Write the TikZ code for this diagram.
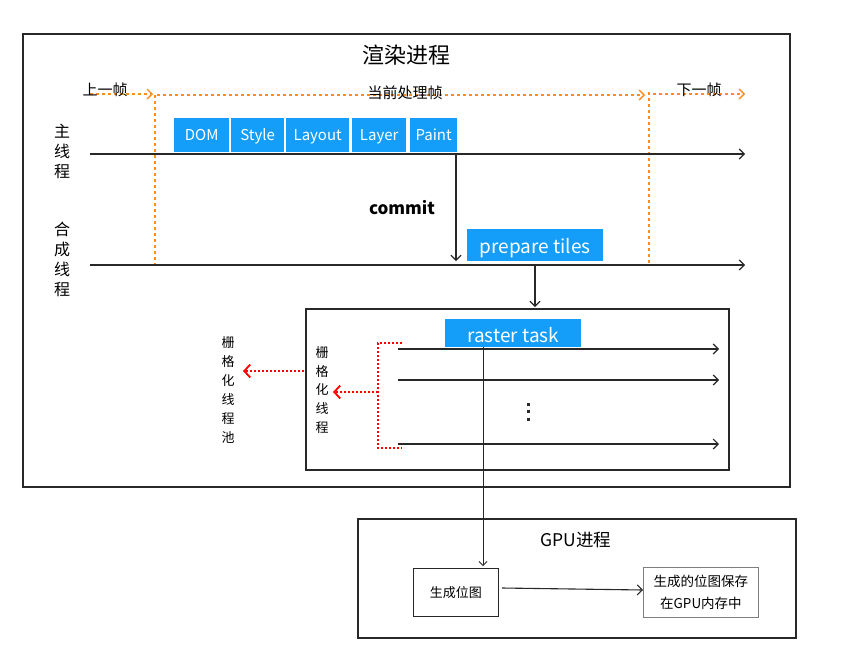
\documentclass[tikz,border=0pt]{standalone}
\usepackage{fontspec}
\setmainfont{Noto Sans CJK SC}
\usetikzlibrary{arrows.meta}
\definecolor{blu}{RGB}{20,158,250}
\definecolor{org}{RGB}{255,140,30}
\definecolor{ln}{RGB}{40,40,40}
\begin{document}
\begin{tikzpicture}[x=1pt,y=-1pt,
  frame/.style={draw=ln,line width=1.3pt},
  task/.style={fill=blu,text=white,inner sep=0pt,anchor=north west,text depth=0pt,text height=11pt,font=\fontsize{15}{17}\selectfont},
  tl/.style={draw=ln,line width=1.1pt,-{Straight Barb[length=5pt,width=10pt,line width=1.1pt]}},
  od/.style={draw=org,line width=1.4pt,dash pattern=on 3pt off 3pt},
  oa/.style={od,-{Straight Barb[length=5pt,width=10pt,line width=1.4pt]}},
  rd/.style={draw=red,line width=1.8pt,dash pattern=on 1.8pt off 2.2pt},
  ra/.style={rd,-{Straight Barb[length=6pt,width=13pt,line width=1.8pt]}},
  vlab/.style={align=center,inner sep=0pt},
  lab/.style={inner sep=0pt}]
\useasboundingbox[fill=white] (0,0) rectangle (849,662);

% render process frame
\draw[frame] (23,34) rectangle (790,487);

% frame markers (lines first, text on top)
\coordinate (p0) at (90,94);
\coordinate (p1) at (153,94);
\coordinate (c0) at (157,95);
\coordinate (c1) at (645,95);
\coordinate (n0) at (653,94);
\coordinate (n1) at (745,94);
\draw[oa] (p0) -- (p1);
\draw[oa] (c0) -- (c1);
\draw[oa] (n0) -- (n1);
\coordinate (v0t) at (155,95);
\coordinate (v0b) at (155,265);
\coordinate (v1t) at (649,92);
\coordinate (v1b) at (649,265);
\draw[od] (v0t) -- (v0b);
\draw[od] (v1t) -- (v1b);
\node[lab,font=\fontsize{22}{24}\selectfont] (title) at (406,55) {渲染进程};
\node[lab,font=\fontsize{15}{17}\selectfont] (prev) at (105,90) {上一帧};
\node[lab,font=\fontsize{15}{17}\selectfont] (cur) at (405,93) {当前处理帧};
\node[lab,font=\fontsize{15}{17}\selectfont] (next) at (699,90) {下一帧};

% main thread
\node[vlab,font=\fontsize{16}{20}\selectfont] (mainlab) at (62,151) {主\\线\\程};
\coordinate (m0) at (90,154);
\coordinate (m1) at (745,154);
\draw[tl] (m0) -- (m1);
\node[task,minimum width=55pt,minimum height=34pt] (dom) at (174,118) {DOM};
\node[task,minimum width=53pt,minimum height=34pt] (style) at (231,118) {Style};
\node[task,minimum width=63pt,minimum height=34pt] (layout) at (286,118) {Layout};
\node[task,minimum width=54pt,minimum height=34pt] (layer) at (352,118) {Layer};
\node[task,minimum width=47pt,minimum height=34pt] (paint) at (410,118) {Paint};

% commit
\node[lab,font=\fontsize{17}{19}\selectfont\bfseries] (commit) at (402,208) {commit};
\coordinate (cm0) at (456,154);
\coordinate (cm1) at (456,261);
\draw[tl] (cm0) -- (cm1);

% compositor thread
\node[vlab,font=\fontsize{16}{20}\selectfont] (complab) at (62,259) {合\\成\\线\\程};
\coordinate (k0) at (90,265);
\coordinate (k1) at (745,265);
\draw[tl] (k0) -- (k1);
\node[task,minimum width=136pt,minimum height=32pt,text height=16pt,font=\fontsize{19}{21}\selectfont] (prep) at (467,229) {prepare tiles};
\coordinate (pt0) at (535,265);
\coordinate (pt1) at (535,307);
\draw[tl] (pt0) -- (pt1);

% raster box
\draw[frame,line width=1.1pt] (306,309) rectangle (729,470);
\node[task,minimum width=136pt,minimum height=28pt,text height=19pt,font=\fontsize{19}{21}\selectfont] (rtask) at (445,319) {raster task};
\coordinate (r1a) at (398,349); \coordinate (r1b) at (719,349);
\coordinate (r2a) at (398,380); \coordinate (r2b) at (719,380);
\coordinate (r3a) at (398,444); \coordinate (r3b) at (719,444);
\draw[tl] (r1a) -- (r1b);
\draw[tl] (r2a) -- (r2b);
\draw[tl] (r3a) -- (r3b);
\foreach \yy in {404,411.5,419}
  \fill[ln] (526.5,\yy-1.5) rectangle (529.5,\yy+1.5);

% red bracket
\coordinate (b0) at (402,343);
\coordinate (b1) at (378,343);
\coordinate (b2) at (378,448);
\coordinate (b3) at (402,448);
\coordinate (bm) at (378,392);
\coordinate (bt) at (333,392);
\draw[rd] (b0) -- (b1) -- (b2) -- (b3);
\draw[ra] (bm) -- (bt);
\node[vlab,font=\fontsize{13}{18.75}\selectfont] (rthr) at (322,390) {栅\\格\\化\\线\\程};
\coordinate (pl0) at (304,371);
\coordinate (pl1) at (243,371);
\draw[ra] (pl0) -- (pl1);
\node[vlab,font=\fontsize{13}{19}\selectfont] (rpool) at (228,390) {栅\\格\\化\\线\\程\\池};

% GPU process
\draw[frame,line width=1.1pt] (358,519) rectangle (796,638);
\node[lab,font=\fontsize{17.5}{19}\selectfont] (gtitle) at (576,540) {GPU进程};
\node[draw=ln,line width=0.9pt,minimum width=85pt,minimum height=48pt,anchor=north west,inner sep=0pt,font=\fontsize{13}{15}\selectfont] (gen) at (413,568) {生成位图};
\node[draw=ln!60,line width=0.9pt,minimum width=115pt,minimum height=50pt,anchor=north west,inner sep=0pt,align=center,font=\fontsize{13.5}{22}\selectfont] (store) at (643,567) {生成的位图保存\\在GPU内存中};
\coordinate (g0) at (502,588);
\draw[tl] (g0) -- (store.west |- 0,590);

% raster task to GPU
\coordinate (rt0) at (483,347);
\coordinate (rt1) at (483,566);
\draw[draw=ln,line width=0.6pt,-{Straight Barb[length=4pt,width=8pt,line width=0.8pt]}] (rt0) -- (rt1);
\end{tikzpicture}
\end{document}
